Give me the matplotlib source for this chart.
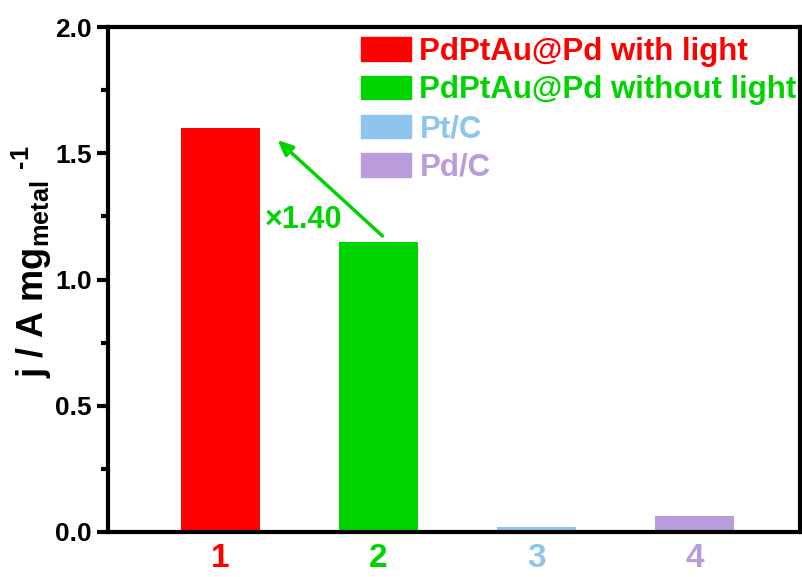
import matplotlib
matplotlib.use("Agg")
import matplotlib.pyplot as plt
from matplotlib.ticker import MultipleLocator
from matplotlib.patches import Patch

categories = ["1", "2", "3", "4"]
labels = ["PdPtAu@Pd with light", "PdPtAu@Pd without light", "Pt/C", "Pd/C"]
values = [1.60, 1.15, 0.018, 0.065]
colors = ["#ff0000", "#00d400", "#8ec5ec", "#b89cdc"]
ratio_text = "×1.40"

plt.rcParams['font.family'] = ['Liberation Sans', 'DejaVu Sans']
plt.rcParams['mathtext.fontset'] = 'custom'
plt.rcParams['mathtext.rm'] = 'Liberation Sans:bold'
plt.rcParams['mathtext.it'] = 'Liberation Sans:bold'
plt.rcParams['mathtext.bf'] = 'Liberation Sans:bold'

fig = plt.figure(figsize=(8.03, 5.77), dpi=100)
ax = fig.add_axes([0.1345, 0.078, 0.862, 0.875])
x = list(range(1, len(values) + 1))
ax.bar(x, values, width=0.5, color=colors)

ax.set_xlim(0.29, 4.67)
ax.set_ylim(0, 2.0)
ax.yaxis.set_major_locator(MultipleLocator(0.5))
ax.yaxis.set_minor_locator(MultipleLocator(0.25))
ax.set_xticks(x)
ax.set_xticklabels(categories)
for t, c in zip(ax.get_xticklabels(), colors):
    t.set_color(c)
    t.set_fontsize(24)
    t.set_fontweight('bold')
for t in ax.get_yticklabels():
    t.set_fontsize(19)
    t.set_fontweight('bold')
ax.tick_params(axis='x', length=0, pad=8)
ax.tick_params(axis='y', which='major', direction='out', length=8, width=3)
ax.tick_params(axis='y', which='minor', direction='out', length=5, width=3)
for s in ax.spines.values():
    s.set_linewidth(3)

ax.set_ylabel(r"j / A mg$_{\mathrm{metal}}$ $^{\text{-1}}$", fontsize=26, fontweight='bold')
ax.yaxis.set_label_coords(-0.078, 0.535)

handles = [Patch(color=c) for c in colors]
leg = ax.legend(handles, labels, loc='upper right', frameon=False,
                prop={'weight': 'bold', 'size': 22.5}, handlelength=1.6, handleheight=0.78,
                handletextpad=0.26, labelspacing=0.28, borderaxespad=0.0, borderpad=0.0,
                bbox_to_anchor=(0.995, 0.981))
for txt, c in zip(leg.get_texts(), colors):
    txt.set_color(c)

ax.annotate("", xy=(1.35, 1.56), xytext=(2.04, 1.165),
            arrowprops=dict(arrowstyle='-|>,head_length=0.9,head_width=0.4', color=colors[1], lw=2.5))
ax.text(1.53, 1.235, ratio_text, color=colors[1], fontsize=22, fontweight='bold',
        ha='center', va='center')

fig.savefig("out.png", dpi=100)
